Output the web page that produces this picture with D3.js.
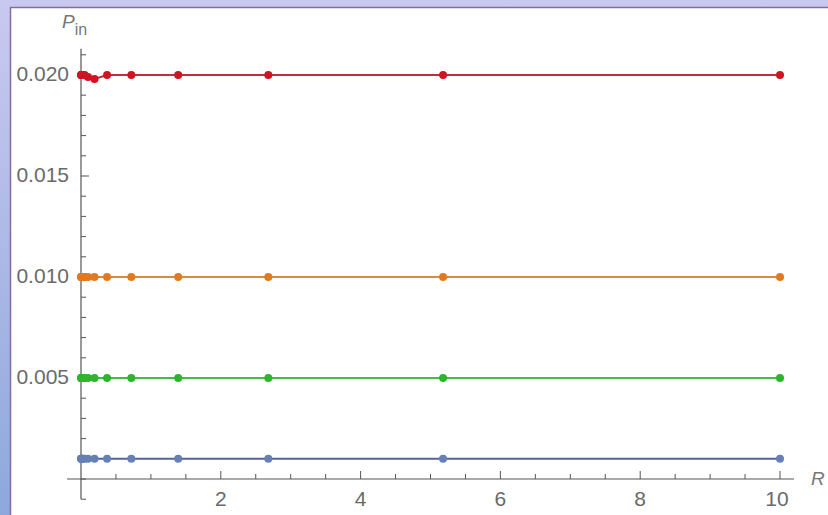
<!DOCTYPE html>
<html>
<head>
<meta charset="utf-8">
<script src="https://cdn.jsdelivr.net/npm/d3@7"></script>
<style>
  body { margin: 0; padding: 0; }
  svg { display: block; }
</style>
</head>
<body>
<svg id="chart" width="828" height="515"></svg>
<script>
// R values (log spaced sample points)
var rValues = [0.001, 0.00193, 0.00373, 0.0072, 0.0139, 0.0268, 0.0518, 0.1, 0.193, 0.373, 0.72, 1.39, 2.68, 5.18, 10];

// P_in for each series
var pBlue   = [0.001, 0.001, 0.001, 0.001, 0.001, 0.001, 0.001, 0.001, 0.001, 0.001, 0.001, 0.001, 0.001, 0.001, 0.001];
var pGreen  = [0.005, 0.005, 0.005, 0.005, 0.005, 0.005, 0.005, 0.005, 0.005, 0.005, 0.005, 0.005, 0.005, 0.005, 0.005];
var pOrange = [0.010, 0.010, 0.010, 0.010, 0.010, 0.010, 0.010, 0.010, 0.010, 0.010, 0.010, 0.010, 0.010, 0.010, 0.010];
var pRed    = [0.020, 0.020, 0.020, 0.020, 0.020, 0.020, 0.020, 0.0199, 0.0198, 0.020, 0.020, 0.020, 0.020, 0.020, 0.020];

var xMajor = [2, 4, 6, 8, 10];
var yMajor = [0.005, 0.010, 0.015, 0.020];

var series = [
	{ name: "blue",   values: pBlue,   line: "#56619c", dot: "#6680b4" },
	{ name: "green",  values: pGreen,  line: "#3fbf3f", dot: "#2db52d" },
	{ name: "orange", values: pOrange, line: "#d98a3c", dot: "#e07a22" },
	{ name: "red",    values: pRed,    line: "#b8323e", dot: "#cf1423" }
];

var FONT = "Liberation Sans, Arial, sans-serif";
var svg = d3.select("#chart");

// outer frame
var defs = svg.append("defs");
var grad = defs.append("linearGradient").attr("id", "frame")
	.attr("x1", 0).attr("y1", 0).attr("x2", 0).attr("y2", 1);
grad.append("stop").attr("offset", "0%").attr("stop-color", "#c9c9f0");
grad.append("stop").attr("offset", "100%").attr("stop-color", "#8ea8dc");
svg.append("rect").attr("width", 828).attr("height", 515).attr("fill", "url(#frame)");
svg.append("rect").attr("x", 10.5).attr("y", 7.5).attr("width", 830).attr("height", 520)
	.attr("fill", "#fff").attr("stroke", "#8a6a9e").attr("stroke-width", 1.5);

// scales
var x = d3.scaleLinear().domain([0, 10]).range([81, 780]);
var y = d3.scaleLinear().domain([0, 0.020]).range([479, 75]);

// x axis
var xAxisG = svg.append("g");
xAxisG.append("line")
	.attr("x1", x(-0.2)).attr("x2", x(10.2))
	.attr("y1", y(0)).attr("y2", y(0))
	.attr("stroke", "#555").attr("stroke-width", 1.2);
var xMinor = d3.range(1, 21).map(function(i) { return i * 0.5; });
xAxisG.selectAll("line.minor").data(xMinor).enter().append("line")
	.attr("class", "minor")
	.attr("x1", function(d) { return x(d); }).attr("x2", function(d) { return x(d); })
	.attr("y1", y(0)).attr("y2", function(d) { return y(0) - (xMajor.indexOf(d) >= 0 ? 8 : 5); })
	.attr("stroke", "#555").attr("stroke-width", 1);
xAxisG.selectAll("text").data(xMajor).enter().append("text")
	.attr("x", function(d) { return x(d) - (d >= 10 ? 3 : 0); })
	.attr("y", y(0) + 27)
	.attr("text-anchor", "middle")
	.style("font-family", FONT)
	.style("font-size", "21px")
	.attr("fill", "#6a6a6a")
	.text(function(d) { return d; });

// y axis
var yAxisG = svg.append("g");
yAxisG.append("line")
	.attr("x1", x(0)).attr("x2", x(0))
	.attr("y1", y(0.0213)).attr("y2", y(-0.001))
	.attr("stroke", "#555").attr("stroke-width", 1.2);
var yMinor = d3.range(-1, 22).map(function(i) { return i * 0.001; });
yAxisG.selectAll("line.minor").data(yMinor).enter().append("line")
	.attr("class", "minor")
	.attr("x1", x(0)).attr("x2", function(d, i) { return x(0) + ((i - 1) % 5 == 0 && i > 1 ? 8 : 5); })
	.attr("y1", function(d) { return y(d); }).attr("y2", function(d) { return y(d); })
	.attr("stroke", "#555").attr("stroke-width", 1);
yAxisG.selectAll("text").data(yMajor).enter().append("text")
	.attr("x", x(0) - 12)
	.attr("y", function(d) { return y(d); })
	.attr("dy", "0.3em")
	.attr("text-anchor", "end")
	.style("font-family", FONT)
	.style("font-size", "21px")
	.attr("fill", "#6a6a6a")
	.text(function(d) { return d3.format(".3f")(d); });

// axis labels
svg.append("text")
	.attr("x", 811).attr("y", 485)
	.style("font-family", FONT)
	.style("font-size", "19px").style("font-style", "italic")
	.attr("fill", "#777")
	.text("R");
var pLabel = svg.append("text")
	.attr("x", 62).attr("y", 28)
	.style("font-family", FONT)
	.attr("fill", "#777");
pLabel.append("tspan").style("font-size", "19px").style("font-style", "italic").text("P");
pLabel.append("tspan").attr("dy", 7).style("font-size", "16px").text("in");

// series lines and points
var line = d3.line()
	.x(function(d, i) { return x(rValues[i]); })
	.y(function(d) { return y(d); });

series.forEach(function(s) {
	svg.append("path")
		.attr("d", line(s.values))
		.attr("fill", "none")
		.attr("stroke", s.line)
		.attr("stroke-width", 2);
	svg.selectAll("circle." + s.name).data(s.values).enter().append("circle")
		.attr("class", s.name)
		.attr("cx", function(d, i) { return x(rValues[i]); })
		.attr("cy", function(d) { return y(d); })
		.attr("r", 4)
		.attr("fill", s.dot);
});
</script>
</body>
</html>
